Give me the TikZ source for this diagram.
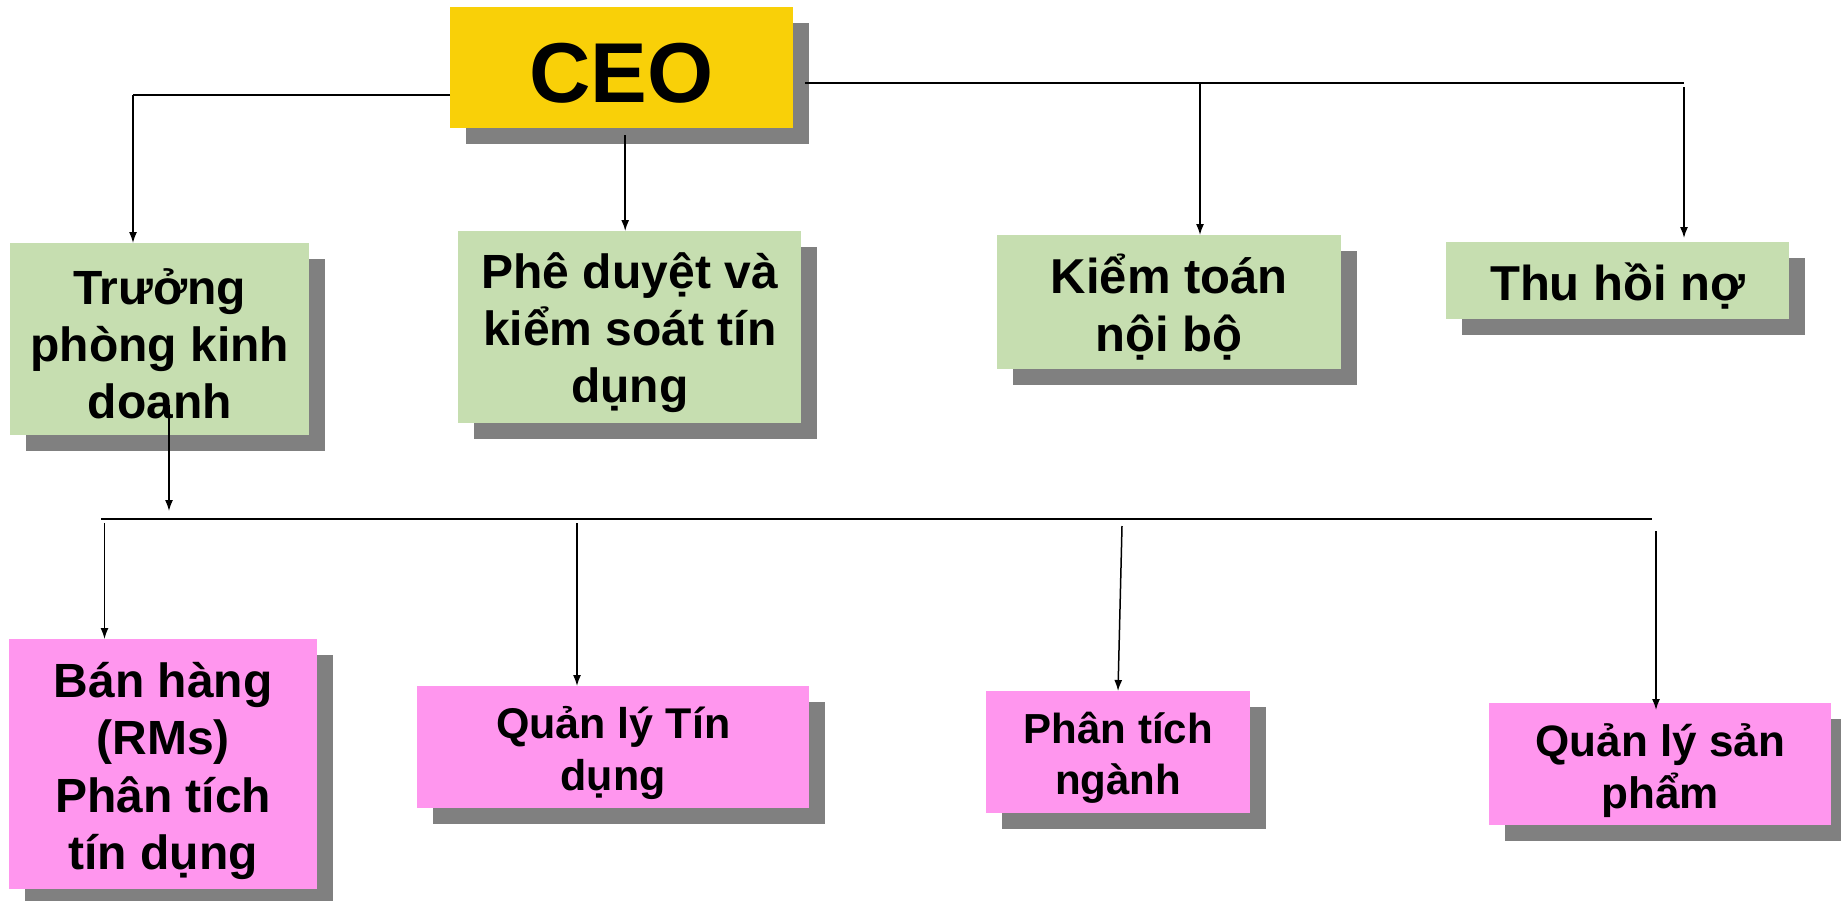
\documentclass[tikz,border=0pt]{standalone}
\usepackage{fontspec}
\setmainfont{Liberation Sans}
\usetikzlibrary{arrows.meta,shadows,calc}
\definecolor{ceoyellow}{HTML}{F9D008}
\definecolor{boxgreen}{HTML}{C6DEB0}
\definecolor{boxpink}{HTML}{FF96EE}
\definecolor{shadowgray}{HTML}{808080}
\begin{document}
\begin{tikzpicture}[x=1pt,y=-1pt,
  box/.style={anchor=north west, inner sep=0pt,
    general shadow={fill=shadowgray, shadow xshift=16pt, shadow yshift=-16pt}},
  greenbox/.style={box, fill=boxgreen},
  pinkbox/.style={box, fill=boxpink},
  txt/.style={inner sep=0pt, align=center},
  gtxt/.style={txt, font=\bfseries\fontsize{48}{57}\selectfont},
  ptxt/.style={txt, font=\bfseries\fontsize{43}{51.5}\selectfont},
  busline/.style={line width=2.2pt, black},
  arr/.style={line width=1.5pt, black, -{Latex[length=11pt,width=8pt]}}
]
\useasboundingbox (0,0) rectangle (1841,900);

% boxes
\node[box, fill=ceoyellow, minimum width=343pt, minimum height=121pt] (ceo) at (450,7) {};
\node[greenbox, minimum width=299pt, minimum height=192pt] (truong) at (10,243) {};
\node[greenbox, minimum width=343pt, minimum height=192pt] (phe) at (458,231) {};
\node[greenbox, minimum width=344pt, minimum height=134pt] (kiem) at (997,235) {};
\node[greenbox, minimum width=343pt, minimum height=77pt] (thu) at (1446,242) {};
\node[pinkbox, minimum width=308pt, minimum height=250pt] (ban) at (9,639) {};
\node[pinkbox, minimum width=392pt, minimum height=122pt] (qltd) at (417,686) {};
\node[pinkbox, minimum width=264pt, minimum height=122pt] (ptn) at (986,691) {};
\node[pinkbox, minimum width=342pt, minimum height=122pt] (qlsp) at (1489,703) {};

% texts
\node[txt, font=\bfseries\fontsize{85}{100}\selectfont] (ceot) at ($(ceo.center)+(0,6)$) {CEO};
\node[gtxt] (truongt) at ($(truong.center)+(0,5)$) {Trưởng\\phòng kinh\\doanh};
\node[gtxt] (phet) at ($(phe.center)+(0,5)$) {Phê duyệt và\\kiểm soát tín\\dụng};
\node[gtxt, font=\bfseries\fontsize{49}{58}\selectfont] (kiemt) at ($(kiem.center)+(0,5)$) {Kiểm toán\\nội bộ};
\node[gtxt, font=\bfseries\fontsize{49}{58}\selectfont] (thut) at ($(thu.center)+(0,5)$) {Thu hồi nợ};
\node[txt, font=\bfseries\fontsize{48}{57.5}\selectfont] (bant) at ($(ban.center)+(0,7)$) {Bán hàng\\(RMs)\\Phân tích\\tín dụng};
\node[ptxt] (qltdt) at ($(qltd.center)+(0,6)$) {Quản lý Tín\\dụng};
\node[ptxt, font=\bfseries\fontsize{42}{51}\selectfont] (ptnt) at ($(ptn.center)+(0,6)$) {Phân tích\\ngành};
\node[ptxt, font=\bfseries\fontsize{44}{52}\selectfont] (qlspt) at ($(qlsp.center)+(0,6)$) {Quản lý sản\\phẩm};

% junction coordinates
\coordinate (jl) at (133,95);
\coordinate (jr) at (1684,83);
\coordinate (jk) at (1200,83);
\coordinate (tstart) at (169,405);
\coordinate (tend) at (169,511);
\coordinate (busl) at (101,519);
\coordinate (busr) at (1652,519);

% top connectors
\draw[busline] (ceo.west |- jl) -- (jl);
\draw[arr] (jl) -- (jl |- truong.north);
\draw[arr] ($(ceo.south)+(3.5,7)$) -- ($(ceo.south |- phe.north)+(3.5,0)$);
\draw[busline] ($(ceo.east |- jr)+(12,0)$) -- (jr);
\draw[arr] (jk) -- (jk |- kiem.north);
\draw[arr] ($(jr)+(0,4)$) -- ($(jr |- thu.north)+(0,-4)$);

% lower connectors
\draw[arr] (tstart) -- (tend);
\draw[busline] (busl) -- (busr);
\draw[arr] (104.5,523) -- (104.5,0 |- ban.north);
\draw[arr] (577,523) -- (577,0 |- qltd.north);
\draw[arr] (1122,526) -- (1118,0 |- ptn.north);
\draw[arr] (1656,531) -- ($(1656,0 |- qlsp.north)+(0,7)$);
\end{tikzpicture}
\end{document}
